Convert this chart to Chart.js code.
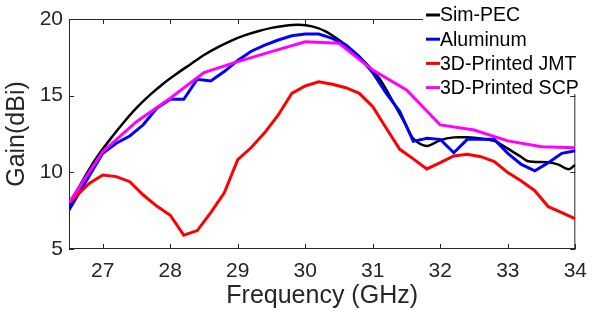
<!DOCTYPE html>
<html>
<head>
<meta charset="utf-8">
<script src="https://cdn.jsdelivr.net/npm/chart.js@4/dist/chart.umd.min.js"></script>
<style>
  body { margin: 0; background: #fff; }
  #wrap { width: 597px; height: 321px; }
</style>
</head>
<body>
<div id="wrap"><canvas id="graphCanvas"></canvas></div>
<script>
// frequency grids (GHz) and gain values (dBi)
let pecFreq = [26.5, 26.7, 26.9, 27.1, 27.3, 27.5, 27.7, 27.9, 28.1, 28.3, 28.5, 28.7, 28.9, 29.1, 29.3, 29.5, 29.7, 29.9, 30.1, 30.3, 30.5, 30.7, 30.9, 31.1, 31.3, 31.5, 31.6, 31.8, 32.0, 32.2, 32.4, 32.6, 32.8, 33.0, 33.2, 33.3, 33.6, 33.75, 33.9, 34.0];
let pecGain = [7.87, 9.45, 10.9, 12.1, 13.2, 14.2, 15.05, 15.8, 16.45, 17.05, 17.65, 18.15, 18.58, 18.93, 19.2, 19.42, 19.56, 19.62, 19.52, 19.2, 18.63, 17.95, 17.1, 16.1, 14.6, 13.0, 12.2, 11.72, 12.1, 12.28, 12.28, 12.2, 12.05, 11.55, 11.0, 10.72, 10.65, 10.5, 10.2, 10.5];

let alFreq = [26.5, 27.0, 27.2, 27.4, 27.6, 27.8, 28.0, 28.2, 28.4, 28.6, 28.8, 29.0, 29.2, 29.4, 29.6, 29.8, 30.0, 30.2, 30.4, 30.6, 30.8, 31.0, 31.2, 31.4, 31.6, 31.8, 32.0, 32.2, 32.4, 32.6, 32.8, 33.0, 33.2, 33.4, 33.6, 33.8, 34.0];
let alGain = [7.54, 11.24, 11.9, 12.37, 13.1, 14.18, 14.76, 14.76, 16.07, 15.96, 16.57, 17.3, 17.9, 18.3, 18.63, 18.91, 19.02, 19.02, 18.74, 18.3, 17.54, 16.5, 15.15, 13.96, 12.02, 12.22, 12.15, 11.28, 12.15, 12.15, 12.15, 11.24, 10.52, 10.1, 10.63, 11.24, 11.41];

let jmtFreq = [26.5, 26.8, 27.0, 27.2, 27.4, 27.6, 27.8, 28.0, 28.2, 28.4, 28.6, 28.8, 29.0, 29.2, 29.4, 29.6, 29.8, 30.0, 30.2, 30.4, 30.6, 30.8, 31.0, 31.2, 31.4, 31.6, 31.8, 32.0, 32.2, 32.4, 32.6, 32.8, 33.0, 33.2, 33.4, 33.6, 33.8, 34.0];
let jmtGain = [8.0, 9.28, 9.83, 9.72, 9.39, 8.52, 7.8, 7.2, 5.9, 6.2, 7.37, 8.67, 10.83, 11.62, 12.59, 13.74, 15.15, 15.63, 15.91, 15.74, 15.52, 15.15, 14.28, 12.87, 11.5, 10.88, 10.22, 10.63, 11.07, 11.18, 11.02, 10.7, 9.98, 9.43, 8.8, 7.76, 7.37, 6.96];

let scpFreq = [26.5, 27.0, 27.5, 28.0, 28.5, 29.0, 29.5, 30.0, 30.5, 31.0, 31.5, 32.0, 32.5, 33.0, 33.5, 34.0];
let scpGain = [8.02, 11.35, 13.3, 14.83, 16.5, 17.22, 17.87, 18.52, 18.42, 16.67, 15.37, 13.09, 12.76, 12.05, 11.67, 11.6];

let labels = ['Sim-PEC', 'Aluminum', '3D-Printed JMT', '3D-Printed SCP'];
let colors = ['#000000', '#0000ff', '#ff0000', '#ff00ff'];
let xTicks = [27, 28, 29, 30, 31, 32, 33, 34];
let yTicks = [5, 10, 15, 20];

const AXIS = '#262626';
const FONT = "'Liberation Sans', Arial, sans-serif";

function pts(fs, gs) {
    return fs.map((f, i) => ({x: f, y: gs[i]}));
}

// box, inward ticks and legend, like the MATLAB axes
const matlabAxes = {
    id: 'matlabAxes',
    beforeDatasetsDraw(chart) {
        const ctx = chart.ctx;
        const a = chart.chartArea;
        const xs = chart.scales.x, ys = chart.scales.y;
        ctx.save();
        ctx.strokeStyle = AXIS;
        ctx.lineWidth = 1;
        ctx.strokeRect(a.left + 0.5, a.top + 0.5, a.right - a.left - 1, a.bottom - a.top - 1);
        ctx.beginPath();
        xTicks.forEach(v => {
            let px = Math.round(xs.getPixelForValue(v)) + 0.5;
            ctx.moveTo(px, a.bottom); ctx.lineTo(px, a.bottom - 5);
            ctx.moveTo(px, a.top); ctx.lineTo(px, a.top + 5);
        });
        yTicks.forEach(v => {
            let py = Math.round(ys.getPixelForValue(v)) + 0.5;
            ctx.moveTo(a.left, py); ctx.lineTo(a.left + 5, py);
            ctx.moveTo(a.right, py); ctx.lineTo(a.right - 5, py);
        });
        ctx.stroke();
        ctx.restore();
    },
    afterDraw(chart) {
        const ctx = chart.ctx;
        ctx.save();
        ctx.fillStyle = '#fff';
        ctx.fillRect(423, 0, 156, 94);
        ctx.font = '19.5px ' + FONT;
        ctx.textBaseline = 'middle';
        labels.forEach((t, i) => {
            let y = 15 + i * 24.2;
            ctx.strokeStyle = colors[i];
            ctx.lineWidth = 3;
            ctx.beginPath();
            ctx.moveTo(426, y); ctx.lineTo(440, y);
            ctx.stroke();
            ctx.fillStyle = '#000';
            ctx.fillText(t, 440, y + 1);
        });
        ctx.restore();
    }
};

let series = [pts(pecFreq, pecGain), pts(alFreq, alGain), pts(jmtFreq, jmtGain), pts(scpFreq, scpGain)];
let widths = [2.5, 3, 3, 3];

let chartdata = {
    datasets: series.map((d, i) => ({
        label: labels[i],
        data: d,
        borderColor: colors[i],
        backgroundColor: colors[i],
        borderWidth: widths[i],
        pointRadius: 0,
        tension: i === 0 ? 0.3 : 0,
        fill: false,
        order: 3 - i
    }))
};

new Chart(document.getElementById('graphCanvas'), {
    type: 'line',
    data: chartdata,
    plugins: [matlabAxes],
    options: {
        responsive: true,
        maintainAspectRatio: false,
        animation: false,
        layout: { padding: { left: 0, right: 14, top: 19, bottom: 0 } },
        plugins: { legend: { display: false }, tooltip: { enabled: false } },
        scales: {
            x: {
                type: 'linear',
                min: 26.5,
                max: 34,
                afterBuildTicks: s => { s.ticks = xTicks.map(v => ({value: v})); },
                afterFit: s => { s.height = 72; },
                grid: { display: false, drawTicks: false },
                border: { display: false },
                ticks: { color: AXIS, font: { family: FONT, size: 21 }, padding: 10 },
                title: {
                    display: true,
                    text: 'Frequency (GHz)',
                    color: AXIS,
                    font: { family: FONT, size: 25 },
                    padding: { top: 0, bottom: 10 }
                }
            },
            y: {
                min: 5,
                max: 20,
                afterBuildTicks: s => { s.ticks = yTicks.map(v => ({value: v})); },
                afterFit: s => { s.width = 69; },
                grid: { display: false, drawTicks: false },
                border: { display: false },
                ticks: { color: AXIS, font: { family: FONT, size: 21 }, padding: 6 },
                title: {
                    display: true,
                    text: 'Gain(dBi)',
                    color: AXIS,
                    font: { family: FONT, size: 25 },
                    padding: { top: 2, bottom: 0 }
                }
            }
        }
    }
});
</script>
</body>
</html>
